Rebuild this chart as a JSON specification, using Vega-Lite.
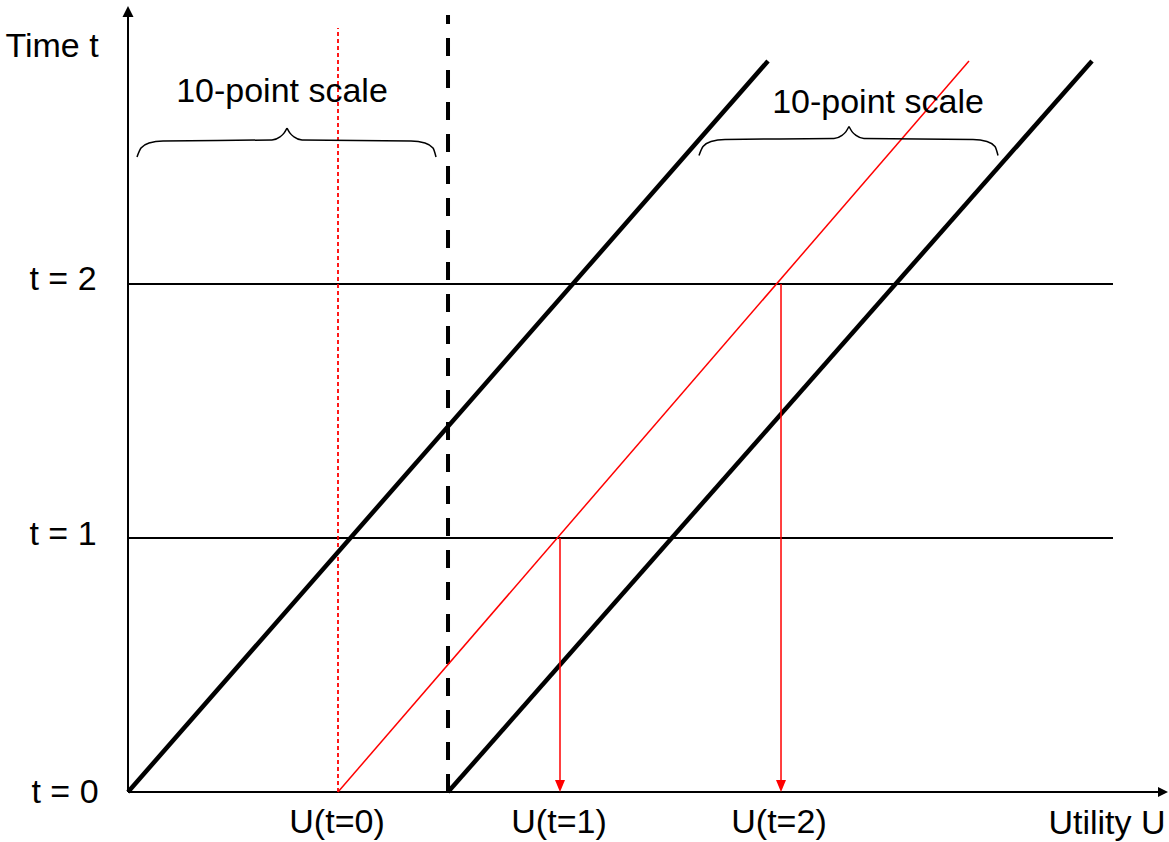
{
  "$schema": "https://vega.github.io/schema/vega-lite/v6.json",
  "width": 1041,
  "height": 792,
  "autosize": "none",
  "padding": {"left": 128, "top": 0, "right": 0, "bottom": 50},
  "background": "white",
  "config": {"view": {"stroke": null}},
  "datasets": {
    "axes": [
      {"u": 0, "t": 0, "u2": 34.333, "t2": 0},
      {"u": 0, "t": 0, "u2": 0, "t2": 3.051}
    ],
    "hlines": [
      {"u": 0, "t": 1, "u2": 32.833, "t2": 1},
      {"u": 0, "t": 2, "u2": 32.833, "t2": 2}
    ],
    "blackdash": [
      {"u": 10.667, "t": 0, "u2": 10.667, "t2": 3.059}
    ],
    "reddash": [
      {"u": 7.0, "t": 0, "u2": 7.0, "t2": 3.008}
    ],
    "blackdiag": [
      {"u": 0, "t": 0, "u2": 21.333, "t2": 2.878},
      {"u": 10.667, "t": 0, "u2": 32.133, "t2": 2.878}
    ],
    "reddiag": [
      {"u": 7.0, "t": 0, "u2": 28.033, "t2": 2.878}
    ],
    "redarrows": [
      {"u": 14.4, "t": 1, "u2": 14.4, "t2": 0.047},
      {"u": 21.767, "t": 2, "u2": 21.767, "t2": 0.047}
    ],
    "redheads": [
      {"u": 14.4, "t": 0.0236},
      {"u": 21.767, "t": 0.0236}
    ],
    "uphead": [{"u": 0, "t": 3.073}],
    "righthead": [{"u": 34.5, "t": 0}],
    "braces": [
      {"seg": "L1", "u": 0.300, "t": 2.500},
      {"seg": "L1", "u": 0.433, "t": 2.535},
      {"seg": "L1", "u": 0.700, "t": 2.555},
      {"seg": "L1", "u": 1.167, "t": 2.563},
      {"seg": "L1", "u": 4.800, "t": 2.567},
      {"seg": "L1", "u": 5.067, "t": 2.579},
      {"seg": "L1", "u": 5.200, "t": 2.594},
      {"seg": "L1", "u": 5.300, "t": 2.614},
      {"seg": "L2", "u": 5.300, "t": 2.614},
      {"seg": "L2", "u": 5.400, "t": 2.594},
      {"seg": "L2", "u": 5.533, "t": 2.579},
      {"seg": "L2", "u": 5.800, "t": 2.567},
      {"seg": "L2", "u": 9.433, "t": 2.563},
      {"seg": "L2", "u": 9.900, "t": 2.555},
      {"seg": "L2", "u": 10.167, "t": 2.535},
      {"seg": "L2", "u": 10.267, "t": 2.500},
      {"seg": "R1", "u": 19.033, "t": 2.506},
      {"seg": "R1", "u": 19.167, "t": 2.541},
      {"seg": "R1", "u": 19.433, "t": 2.561},
      {"seg": "R1", "u": 19.900, "t": 2.569},
      {"seg": "R1", "u": 23.533, "t": 2.573},
      {"seg": "R1", "u": 23.800, "t": 2.585},
      {"seg": "R1", "u": 23.933, "t": 2.600},
      {"seg": "R1", "u": 24.033, "t": 2.620},
      {"seg": "R2", "u": 24.033, "t": 2.620},
      {"seg": "R2", "u": 24.133, "t": 2.600},
      {"seg": "R2", "u": 24.267, "t": 2.585},
      {"seg": "R2", "u": 24.533, "t": 2.573},
      {"seg": "R2", "u": 28.167, "t": 2.569},
      {"seg": "R2", "u": 28.633, "t": 2.561},
      {"seg": "R2", "u": 28.900, "t": 2.541},
      {"seg": "R2", "u": 29.000, "t": 2.506}
    ],
    "labels": [
      {"label": "Time t", "u": -2.533, "t": 2.894},
      {"label": "t = 2", "u": -2.167, "t": 1.976},
      {"label": "t = 1", "u": -2.167, "t": 0.972},
      {"label": "t = 0", "u": -2.100, "t": -0.0433},
      {"label": "U(t=0)", "u": 6.967, "t": -0.161},
      {"label": "U(t=1)", "u": 14.367, "t": -0.161},
      {"label": "U(t=2)", "u": 21.700, "t": -0.161},
      {"label": "Utility U", "u": 32.633, "t": -0.165},
      {"label": "10-point scale", "u": 5.133, "t": 2.717},
      {"label": "10-point scale", "u": 25.0, "t": 2.673}
    ]
  },
  "encoding": {
    "x": {"field": "u", "type": "quantitative", "scale": {"domain": [0, 34.7], "nice": false, "zero": false}, "axis": null},
    "y": {"field": "t", "type": "quantitative", "scale": {"domain": [0, 3.118], "nice": false, "zero": false}, "axis": null}
  },
  "layer": [
    {
      "data": {"name": "hlines"},
      "mark": {"type": "rule", "color": "black", "strokeWidth": 2},
      "encoding": {"x2": {"field": "u2"}, "y2": {"field": "t2"}}
    },
    {
      "data": {"name": "axes"},
      "mark": {"type": "rule", "color": "black", "strokeWidth": 2},
      "encoding": {"x2": {"field": "u2"}, "y2": {"field": "t2"}}
    },
    {
      "data": {"name": "blackdash"},
      "mark": {"type": "rule", "color": "black", "strokeWidth": 4, "strokeDash": [18, 14]},
      "encoding": {"x2": {"field": "u2"}, "y2": {"field": "t2"}}
    },
    {
      "data": {"name": "reddash"},
      "mark": {"type": "rule", "color": "#ff0000", "strokeWidth": 1.8, "strokeDash": [4, 3]},
      "encoding": {"x2": {"field": "u2"}, "y2": {"field": "t2"}}
    },
    {
      "data": {"name": "blackdiag"},
      "mark": {"type": "rule", "color": "black", "strokeWidth": 4.5},
      "encoding": {"x2": {"field": "u2"}, "y2": {"field": "t2"}}
    },
    {
      "data": {"name": "reddiag"},
      "mark": {"type": "rule", "color": "#ff0000", "strokeWidth": 1.5},
      "encoding": {"x2": {"field": "u2"}, "y2": {"field": "t2"}}
    },
    {
      "data": {"name": "redarrows"},
      "mark": {"type": "rule", "color": "#ff0000", "strokeWidth": 1.5},
      "encoding": {"x2": {"field": "u2"}, "y2": {"field": "t2"}}
    },
    {
      "data": {"name": "redheads"},
      "mark": {"type": "point", "shape": "M-0.833,-1L0.833,-1L0,1Z", "size": 144, "filled": true, "color": "#ff0000", "opacity": 1, "strokeWidth": 0}
    },
    {
      "data": {"name": "uphead"},
      "mark": {"type": "point", "shape": "M0,-1L1,1L-1,1Z", "size": 121, "filled": true, "color": "black", "opacity": 1, "strokeWidth": 0}
    },
    {
      "data": {"name": "righthead"},
      "mark": {"type": "point", "shape": "M1,0L-1,-1L-1,1Z", "size": 100, "filled": true, "color": "black", "opacity": 1, "strokeWidth": 0}
    },
    {
      "data": {"name": "braces"},
      "mark": {"type": "line", "color": "black", "strokeWidth": 1.5, "interpolate": "monotone"},
      "encoding": {"detail": {"field": "seg", "type": "nominal"}, "order": {"field": "u", "type": "quantitative"}}
    },
    {
      "data": {"name": "labels"},
      "mark": {"type": "text", "font": "Liberation Sans", "fontSize": 34, "align": "center", "baseline": "alphabetic", "color": "black"},
      "encoding": {"text": {"field": "label", "type": "nominal"}}
    }
  ]
}
